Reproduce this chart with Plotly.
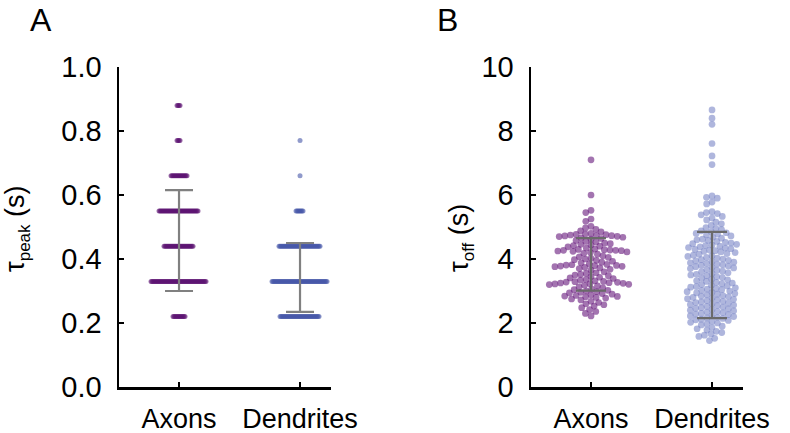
import numpy as np
import plotly.graph_objects as go

W, H = 790, 433

categories = ["Axons", "Dendrites"]

# Panel A: tau_peak is quantised; levels and number of cells at each level
peak_levels = [0.22, 0.33, 0.44, 0.55, 0.66, 0.77, 0.88]
peak_axon_counts = [13, 56, 30, 40, 17, 4, 4]
peak_dend_counts = [40, 56, 42, 8, 1, 1, 0]
peak_mean = [0.4575, 0.3425]
peak_sd = [0.1575, 0.1075]

# Panel B: tau_off values (s)
off_axons = [
    7.10, 6.00, 5.52, 5.45, 5.25, 5.18, 5.02, 4.97, 4.93, 4.88, 4.85,
    4.80, 4.78, 4.77, 4.76, 4.75, 4.74, 4.73, 4.72, 4.71, 4.70, 4.68, 4.66, 4.64, 4.62,
    4.58, 4.55, 4.53, 4.50, 4.48, 4.46, 4.44, 4.42, 4.40, 4.38,
    4.34, 4.31, 4.30, 4.29, 4.28, 4.27, 4.27, 4.26, 4.25, 4.24, 4.22, 4.20, 4.18, 4.15,
    4.10, 4.07, 4.05, 4.02, 4.00, 3.98, 3.96, 3.93, 3.90, 3.88,
    3.85, 3.83, 3.82, 3.81, 3.80, 3.79, 3.78, 3.77, 3.76, 3.74, 3.72, 3.70, 3.68, 3.65,
    3.60, 3.57, 3.55, 3.52, 3.50, 3.48, 3.45, 3.43, 3.41, 3.39,
    3.36, 3.34, 3.32, 3.30, 3.29, 3.28, 3.27, 3.26, 3.25, 3.24, 3.23, 3.22, 3.21, 3.20,
    3.18, 3.16, 3.13, 3.10,
    3.06, 3.04, 3.02, 3.00, 2.98, 2.96, 2.94, 2.92, 2.90, 2.88,
    2.86, 2.84, 2.83, 2.82, 2.80, 2.78, 2.75, 2.72,
    2.68, 2.64, 2.60, 2.57, 2.53, 2.48, 2.42, 2.36, 2.30, 2.22,
]
off_dendrites = [
    8.66, 8.40, 8.21, 7.61, 7.22, 6.95,
    5.97, 5.93, 5.90, 5.78, 5.72,
    5.48, 5.45, 5.42, 5.38, 5.33, 5.28, 5.22, 5.15, 5.10, 5.05,
    4.98, 4.95, 4.92, 4.88, 4.85, 4.82, 4.80, 4.78, 4.75, 4.72,
    4.68, 4.65, 4.62, 4.60, 4.58, 4.55, 4.52, 4.50, 4.48, 4.46, 4.44,
    4.42, 4.40, 4.38, 4.36, 4.34, 4.32, 4.30, 4.28, 4.26, 4.24, 4.22,
    4.20, 4.17, 4.15, 4.12, 4.10, 4.08, 4.05, 4.03, 4.00, 3.98, 3.96,
    3.94, 3.92, 3.90, 3.88, 3.86, 3.84, 3.82, 3.80, 3.78, 3.76, 3.74,
    3.72, 3.70, 3.67, 3.65, 3.62, 3.60, 3.57, 3.55, 3.52, 3.50,
    3.48, 3.45, 3.42, 3.40, 3.37, 3.35, 3.32, 3.30, 3.27, 3.25,
    3.22, 3.20, 3.18, 3.16, 3.14, 3.12, 3.10, 3.08, 3.06, 3.04, 3.02,
    3.00, 2.98, 2.96, 2.94, 2.92, 2.90, 2.88, 2.86, 2.84, 2.82, 2.80, 2.78,
    2.76, 2.74, 2.72, 2.70, 2.68, 2.66, 2.64, 2.62, 2.60, 2.58, 2.56, 2.54,
    2.52, 2.50, 2.48, 2.46, 2.44, 2.42, 2.40, 2.38, 2.36, 2.34, 2.32, 2.30,
    2.28, 2.26, 2.24, 2.22, 2.20, 2.18, 2.16, 2.14, 2.12, 2.10, 2.08,
    2.05, 2.02, 2.00, 1.97, 1.94, 1.90, 1.86, 1.82, 1.78,
    1.74, 1.70, 1.66, 1.62, 1.58, 1.52, 1.45,
]
off_mean = [3.83, 3.50]
off_sd = [0.82, 1.35]

FONT = "Liberation Sans, Arial, Helvetica, sans-serif"

# plot-area geometry (pixels)
AX_L, AX_R = 119, 331
BX_L, BX_R = 531, 743
Y_TOP, Y_BOT = 67, 387
XRANGE = [-0.496, 1.256]
XPX = (AX_R - AX_L) / (XRANGE[1] - XRANGE[0])


def swarm(values, ypx, d):
    """beeswarm offsets (in category-axis units) for points of pixel spacing d"""
    vals = np.asarray(values, float)
    order = np.argsort(-vals, kind="stable")
    placed = []
    out = np.zeros(len(vals))
    for i in order:
        y = vals[i] * ypx
        cands = [0.0]
        for (px, py) in placed:
            dy = y - py
            if abs(dy) < d:
                dx = np.sqrt(d * d - dy * dy)
                cands += [px + dx, px - dx]
        cands.sort(key=lambda c: (abs(c), c))
        for c in cands:
            if all((c - px) ** 2 + (y - py) ** 2 >= d * d - 1e-6 for (px, py) in placed):
                break
        placed.append((c, y))
        out[i] = c / XPX
    return out


fig = go.Figure()

pa = np.repeat(peak_levels, peak_axon_counts)
pd_ = np.repeat(peak_levels, peak_dend_counts)

ypxA = (Y_BOT - Y_TOP) / 1.0
ypxB = (Y_BOT - Y_TOP) / 10.0

fig.add_trace(go.Scatter(x=0 + swarm(pa, ypxA, 1.0), y=pa, mode="markers",
                         marker=dict(size=5, color="#5c1272", opacity=0.6), xaxis="x", yaxis="y"))
fig.add_trace(go.Scatter(x=1 + swarm(pd_, ypxA, 1.0), y=pd_, mode="markers",
                         marker=dict(size=5, color="#4656a8", opacity=0.6), xaxis="x", yaxis="y"))
fig.add_trace(go.Scatter(x=[0, 1], y=peak_mean, mode="markers",
                         marker=dict(size=1, color="rgba(0,0,0,0)"),
                         error_y=dict(type="data", array=peak_sd, visible=True, color="#808080",
                                      thickness=2.2, width=14),
                         xaxis="x", yaxis="y"))

fig.add_trace(go.Scatter(x=0 + swarm(off_axons, ypxB, 5.7), y=off_axons, mode="markers",
                         marker=dict(size=6.7, color="#6a1f80", opacity=0.62), xaxis="x2", yaxis="y2"))
fig.add_trace(go.Scatter(x=1 + swarm(off_dendrites, ypxB, 5.7), y=off_dendrites, mode="markers",
                         marker=dict(size=6.7, color="#7a85c6", opacity=0.6), xaxis="x2", yaxis="y2"))
fig.add_trace(go.Scatter(x=[0, 1], y=off_mean, mode="markers",
                         marker=dict(size=1, color="rgba(0,0,0,0)"),
                         error_y=dict(type="data", array=off_sd, visible=True, color="#6a6a6a",
                                      thickness=2.2, width=15),
                         xaxis="x2", yaxis="y2"))

ydom = [(H - Y_BOT) / H, (H - Y_TOP) / H]
xax = dict(range=XRANGE, tickvals=[0, 1], ticktext=categories, ticks="inside", ticklen=5,
           tickwidth=2, tickcolor="black", showline=True, linewidth=2.5, linecolor="black",
           showgrid=False, zeroline=False, tickfont=dict(size=27, color="black", family=FONT),
           ticklabelstandoff=6, automargin=False, fixedrange=True)
yax = dict(ticks="inside", ticklen=5, tickwidth=2, tickcolor="black", showline=True,
           linewidth=2.5, linecolor="black", showgrid=False, zeroline=False,
           tickfont=dict(size=29, color="black", family=FONT), ticklabelstandoff=9,
           automargin=False, fixedrange=True)

sub = "<span style='font-size:17px'>%s</span>"

fig.update_layout(
    width=W, height=H, margin=dict(l=0, r=0, t=0, b=0, autoexpand=False),
    paper_bgcolor="white", plot_bgcolor="white", showlegend=False,
    font=dict(family=FONT, color="black"),
    xaxis=dict(xax, domain=[AX_L / W, AX_R / W], anchor="y"),
    yaxis=dict(yax, domain=ydom, anchor="x", range=[0, 1.0], tickvals=[0, 0.2, 0.4, 0.6, 0.8, 1.0],
               ticktext=["0.0", "0.2", "0.4", "0.6", "0.8", "1.0"]),
    xaxis2=dict(xax, domain=[BX_L / W, BX_R / W], anchor="y2"),
    yaxis2=dict(yax, domain=ydom, anchor="x2", range=[0, 10], tickvals=[0, 2, 4, 6, 8, 10]),
    annotations=[
        dict(text="A", x=28 / W, y=1.0, xref="paper", yref="paper", xanchor="left",
             yanchor="top", showarrow=False, font=dict(size=32, family=FONT)),
        dict(text="B", x=435 / W, y=1.0, xref="paper", yref="paper", xanchor="left",
             yanchor="top", showarrow=False, font=dict(size=32, family=FONT)),
        dict(text="τ<sub>" + sub % "peak" + "</sub> (s)", x=17 / W, y=(H - 229) / H,
             xref="paper", yref="paper", xanchor="center", yanchor="middle", textangle=-90,
             showarrow=False, font=dict(size=27, family=FONT)),
        dict(text="τ<sub>" + sub % "off" + "</sub> (s)", x=461 / W, y=(H - 238) / H,
             xref="paper", yref="paper", xanchor="center", yanchor="middle", textangle=-90,
             showarrow=False, font=dict(size=27, family=FONT)),
    ],
)

fig.write_html("out.html", config={"displayModeBar": False, "staticPlot": True},
               post_script="document.body.style.margin='0';"
                           "document.body.style.overflow='hidden';")
